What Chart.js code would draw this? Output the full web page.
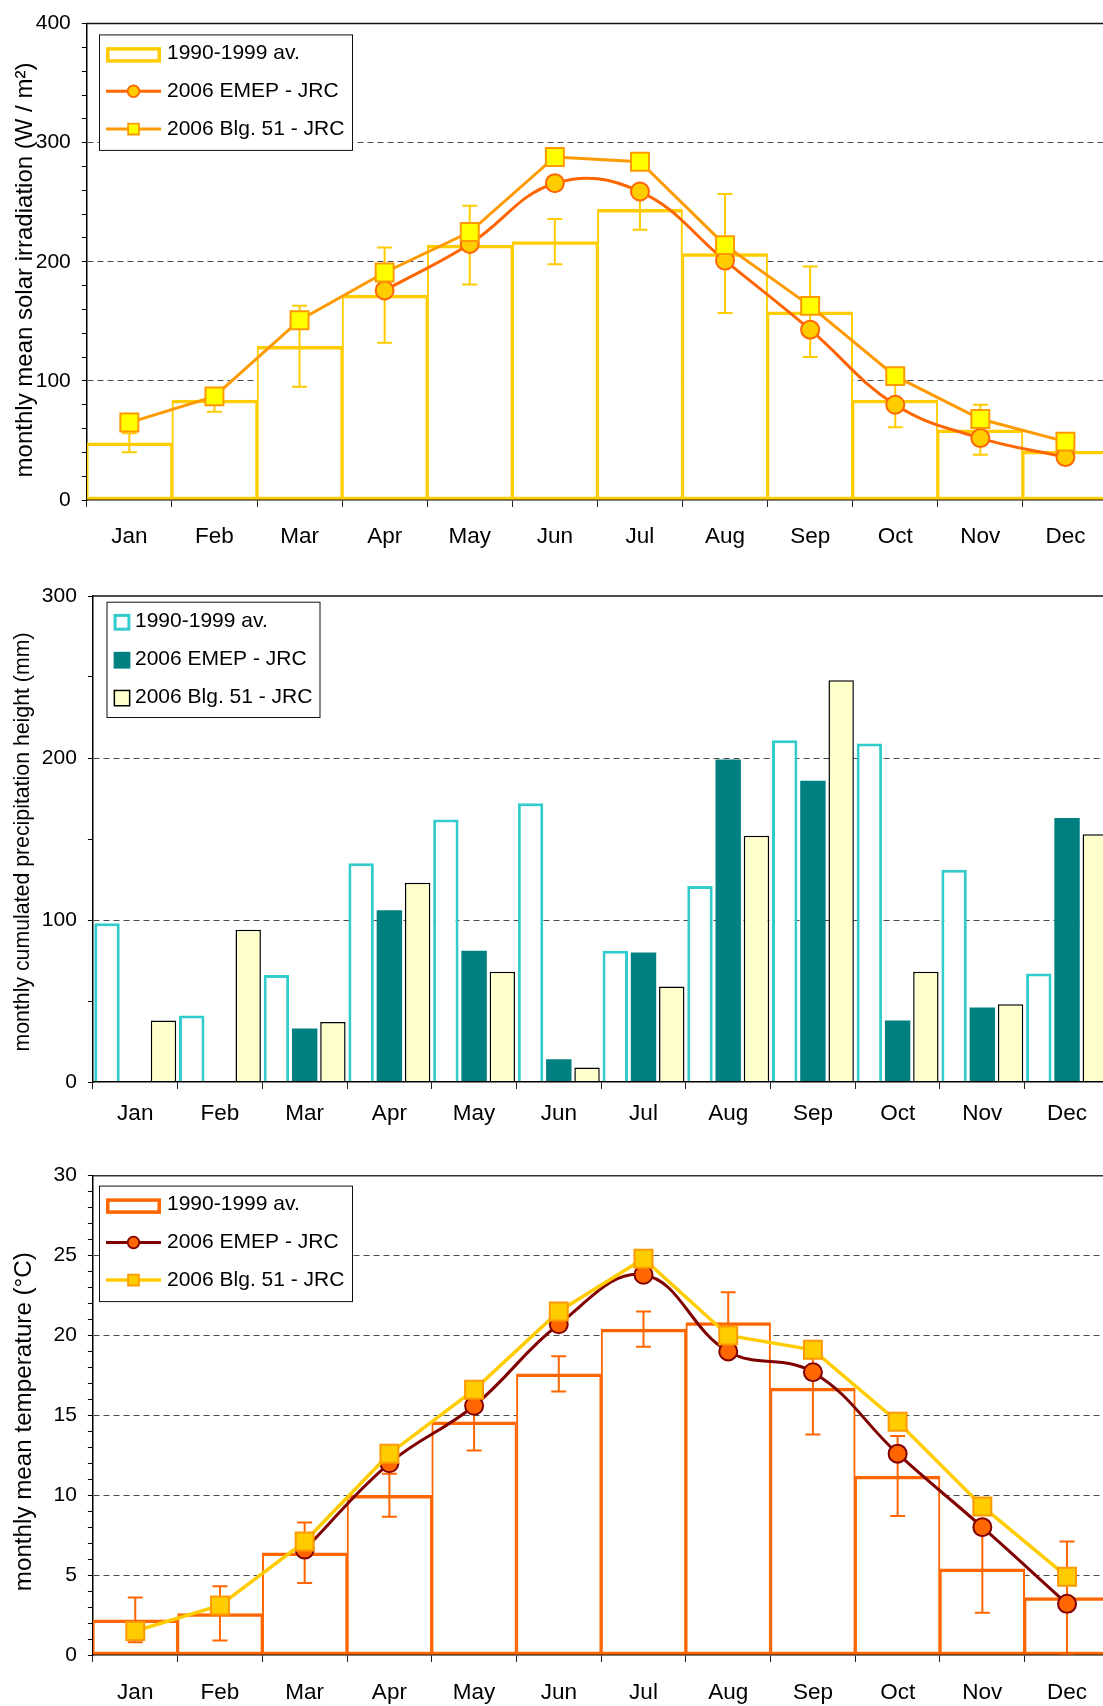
<!DOCTYPE html>
<html>
<head>
<meta charset="utf-8">
<title>Monthly climate: 2006 vs 1990-1999</title>
<script src="https://cdn.jsdelivr.net/npm/chart.js@4.4.1/dist/chart.umd.min.js"></script>
<style>
  html, body { margin: 0; padding: 0; background: #fff; }
  body { width: 1103px; height: 1706px; overflow: hidden; position: relative; }
  canvas { position: absolute; left: 0; }
  #solar  { top: 0; }
  #precip { top: 560px; }
  #temp   { top: 1140px; }
</style>
</head>
<body>
<canvas id="solar" width="1112" height="560"></canvas>
<canvas id="precip" width="1112" height="580"></canvas>
<canvas id="temp" width="1112" height="566"></canvas>
<script>
const months = ['Jan', 'Feb', 'Mar', 'Apr', 'May', 'Jun', 'Jul', 'Aug', 'Sep', 'Oct', 'Nov', 'Dec'];
const seriesNames = ['1990-1999 av.', '2006 EMEP - JRC', '2006 Blg. 51 - JRC'];

// Monthly mean solar irradiation (W / m²)
const solarAvg   = [48, 84, 129, 172, 214, 217, 244, 207, 158, 84, 59, 41];
const solarAvgSd = [8, 10, 34, 40, 33, 19, 17, 50, 38, 23, 21, 5];
const solarEmep  = [null, null, null, 176, 215, 266, 259, 201, 143, 80, 52, 36];
const solarBlg51 = [65, 87, 151, 191, 225, 288, 284, 214, 163, 104, 68, 49];

// Monthly cumulated precipitation height (mm)
const precipAvg   = [98, 41, 66, 135, 162, 172, 81, 121, 211, 209, 131, 67];
const precipEmep  = [null, null, 33, 106, 81, 14, 80, 199, 186, 38, 46, 163];
const precipBlg51 = [38, 94, 37, 123, 68, 9, 59, 152, 248, 68, 48, 153];

// Monthly mean temperature (°C)
const tempAvg   = [2.2, 2.6, 6.4, 10.0, 14.6, 17.6, 20.4, 20.8, 16.7, 11.2, 5.4, 3.6];
const tempAvgSd = [1.4, 1.7, 1.9, 1.35, 1.8, 1.1, 1.1, 1.9, 2.9, 2.5, 2.75, 3.5];
const tempEmep  = [null, null, 6.6, 12.0, 15.6, 20.7, 23.8, 19.0, 17.7, 12.6, 8.0, 3.2];
const tempBlg51 = [1.5, 3.1, 7.1, 12.6, 16.6, 21.5, 24.8, 20.0, 19.1, 14.6, 9.3, 4.9];

const FONT = '"Liberation Sans", Arial, Helvetica, sans-serif';
Chart.defaults.font.family = FONT;
Chart.defaults.color = '#000';

// Legend symbol + label rows, y-axis title, top frame line and error bars
function overlay(spec) {
  function drawMarker(ctx, style, x, y, r, fill, stroke, lw) {
    ctx.beginPath();
    if (style === 'circle') ctx.arc(x, y, r, 0, Math.PI * 2);
    else ctx.rect(x - r, y - r, 2 * r, 2 * r);
    ctx.fillStyle = fill;
    ctx.fill();
    ctx.lineWidth = lw;
    ctx.strokeStyle = stroke;
    ctx.stroke();
  }
  function drawLegend(chart) {
    const L = spec.legend;
    const ctx = chart.ctx;
    ctx.save();
    ctx.fillStyle = '#fff';
    ctx.fillRect(L.x, L.y, L.w, L.h);
    ctx.strokeStyle = '#111';
    ctx.lineWidth = 1;
    ctx.strokeRect(L.x + 0.5, L.y + 0.5, L.w, L.h);
    chart.data.datasets.forEach((ds, i) => {
      const cy = L.rows[i];
      const kind = L.kinds[i];
      if (kind === 'frame') {
        const lw = 3.5, h = L.frameH, yc = cy + 1.5;
        ctx.lineWidth = lw;
        ctx.strokeStyle = ds.borderColor;
        ctx.strokeRect(L.symX0 + lw / 2, yc - h / 2 + lw / 2, L.symX1 - L.symX0 - lw, h - lw);
      } else if (kind === 'line') {
        ctx.lineWidth = ds.borderWidth;
        ctx.strokeStyle = ds.borderColor;
        ctx.beginPath();
        ctx.moveTo(L.symX0, cy);
        ctx.lineTo(L.symX1, cy);
        ctx.stroke();
        const r = ds.pointStyle === 'circle' ? L.circleR : L.rectR;
        drawMarker(ctx, ds.pointStyle, (L.symX0 + L.symX1) / 2, cy, r,
          ds.pointBackgroundColor, ds.pointBorderColor, 1.8);
      } else if (kind === 'swatch') {
        const s = L.swatch, bw = ds.borderWidth || 0, yc = cy + 1;
        ctx.fillStyle = ds.backgroundColor;
        ctx.fillRect(L.swatchX, yc - s / 2, s, s);
        if (bw > 0) {
          ctx.lineWidth = bw;
          ctx.strokeStyle = ds.borderColor;
          ctx.strokeRect(L.swatchX + bw / 2, yc - s / 2 + bw / 2, s - bw, s - bw);
        }
      }
      ctx.fillStyle = '#000';
      ctx.font = L.font;
      ctx.textAlign = 'left';
      ctx.textBaseline = 'middle';
      ctx.fillText(ds.label, L.textX, cy);
    });
    ctx.restore();
  }
  return {
    id: 'overlay',
    afterDatasetDraw(chart, args) {
      const ds = chart.data.datasets[args.index];
      const eb = ds.errorBars;
      if (!eb) return;
      const xs = chart.scales.x, ys = chart.scales.y, ctx = chart.ctx;
      ctx.save();
      ctx.strokeStyle = eb.color;
      ctx.lineWidth = eb.width;
      eb.values.forEach((e, i) => {
        const v = ds.data[i];
        if (v == null || e == null) return;
        const px = xs.getPixelForValue(i);
        const top = ys.getPixelForValue(v + e);
        const bot = ys.getPixelForValue(v - e);
        const h = eb.cap / 2;
        ctx.beginPath();
        ctx.moveTo(px, top); ctx.lineTo(px, bot);
        ctx.moveTo(px - h, top); ctx.lineTo(px + h, top);
        ctx.moveTo(px - h, bot); ctx.lineTo(px + h, bot);
        ctx.stroke();
      });
      ctx.restore();
    },
    afterDraw(chart) {
      const ctx = chart.ctx, a = chart.chartArea;
      ctx.save();
      ctx.strokeStyle = spec.frameColor;
      ctx.lineWidth = 1.5;
      ctx.beginPath();
      ctx.moveTo(a.left, a.top);
      ctx.lineTo(a.right + 10, a.top);
      ctx.stroke();
      ctx.translate(spec.title.x, spec.title.y);
      ctx.rotate(-Math.PI / 2);
      ctx.font = spec.title.font;
      ctx.fillStyle = '#000';
      ctx.textAlign = 'center';
      ctx.textBaseline = 'middle';
      ctx.fillText(spec.title.text, 0, 0);
      ctx.restore();
      drawLegend(chart);
    }
  };
}

function axisOptions(o) {
  return {
    responsive: false,
    animation: false,
    devicePixelRatio: 1,
    events: [],
    layout: { autoPadding: false, padding: { top: o.padTop, right: o.padRight, left: 0, bottom: 0 } },
    plugins: { legend: { display: false }, tooltip: { enabled: false }, title: { display: false } },
    scales: {
      x: {
        type: 'category',
        offset: true,
        grid: { offset: true, drawOnChartArea: false, drawTicks: true, tickLength: 7, tickColor: '#222', tickWidth: 1 },
        border: { display: true, color: '#000', width: 1.5, z: o.axisOnTop ? 1 : 0 },
        ticks: { color: '#000', font: { family: FONT, size: 22.5 }, padding: o.xPad, maxRotation: 0, autoSkip: false },
        afterFit: s => { s.height = o.xHeight; s.paddingLeft = 0; s.paddingRight = 0; }
      },
      y: {
        min: 0,
        max: o.max,
        grid: {
          color: c => (c.tick && c.tick.value % o.major === 0 && c.tick.value > 0 && c.tick.value < o.max) ? '#4a4a4a' : 'rgba(0,0,0,0)',
          lineWidth: 1,
          drawTicks: true,
          tickLength: 5,
          tickColor: '#000',
          tickWidth: 1
        },
        border: { display: true, color: '#000', width: 1.5, dash: [6, 4] },
        ticks: {
          stepSize: o.minor,
          autoSkip: false,
          maxTicksLimit: 100,
          color: '#000',
          font: { family: FONT, size: 21 },
          padding: 11,
          callback: v => (v % o.major === 0 ? String(v) : '')
        },
        afterFit: s => { s.width = o.yWidth; }
      }
    }
  };
}

const lineLegend = (rows) => ({
  x: 99, y: rows[0] - 19, w: 253, h: 115.5, rows: rows,
  kinds: ['frame', 'line', 'line'],
  symX0: 106, symX1: 161, frameH: 15.5, textX: 167,
  circleR: 5.8, rectR: 5.4, font: '21px ' + FONT
});

// Step outline for the 1990-1999 averages: shared edges add up between neighbours
const stepBorder = { top: 3.5, bottom: 3, left: 2, right: 2 };

// Solar irradiation
new Chart(document.getElementById('solar'), {
  type: 'bar',
  data: {
    labels: months,
    datasets: [
      {
        label: seriesNames[0], data: solarAvg, order: 3,
        backgroundColor: '#FFFFFF', borderColor: '#FFCC00',
        borderWidth: stepBorder, borderSkipped: false,
        barPercentage: 1, categoryPercentage: 1,
        errorBars: { values: solarAvgSd, color: '#FFCC00', width: 2, cap: 15 }
      },
      {
        type: 'line', label: seriesNames[1], data: solarEmep, order: 2,
        borderColor: '#FF6600', borderWidth: 3, tension: 0.4, fill: false,
        pointStyle: 'circle', pointRadius: 9, pointBackgroundColor: '#FFCC00',
        pointBorderColor: '#FF6600', pointBorderWidth: 2
      },
      {
        type: 'line', label: seriesNames[2], data: solarBlg51, order: 1,
        borderColor: '#FF9900', borderWidth: 3, tension: 0, fill: false,
        pointStyle: 'rect', pointRadius: 12.7, pointBackgroundColor: '#FFFF00',
        pointBorderColor: '#FF9900', pointBorderWidth: 2
      }
    ]
  },
  options: axisOptions({ max: 400, minor: 20, major: 100, yWidth: 86.8, padTop: 20, padRight: 4, xHeight: 60, xPad: 16.5 }),
  plugins: [overlay({
    frameColor: '#111',
    title: { text: 'monthly mean solar irradiation (W / m²)', x: 25, y: 270, font: '24px ' + FONT },
    legend: lineLegend([53.4, 91.3, 129.1])
  })]
});

// Precipitation
new Chart(document.getElementById('precip'), {
  type: 'bar',
  data: {
    labels: months,
    datasets: [
      { label: seriesNames[0], data: precipAvg, backgroundColor: '#FFFFFF', borderColor: '#33CCCC', borderWidth: 3, borderSkipped: 'start' },
      { label: seriesNames[1], data: precipEmep, backgroundColor: '#008080', borderWidth: 0 },
      { label: seriesNames[2], data: precipBlg51, backgroundColor: '#FFFFCC', borderColor: '#000000', borderWidth: 1.5, borderSkipped: 'start' }
    ]
  },
  options: (() => {
    const o = axisOptions({ max: 300, minor: 50, major: 100, yWidth: 92.9, padTop: 36, padRight: 2.6, xHeight: 58, xPad: 11, axisOnTop: true });
    o.datasets = { bar: { barPercentage: 0.9, categoryPercentage: 1 } };
    return o;
  })(),
  plugins: [overlay({
    frameColor: '#111',
    title: { text: 'monthly cumulated precipitation height (mm)', x: 23, y: 282, font: '21.3px ' + FONT },
    legend: {
      x: 106.5, y: 41.7, w: 213, h: 115.3, rows: [61.3, 99.2, 137.1],
      kinds: ['swatch', 'swatch', 'swatch'],
      swatchX: 113.6, swatch: 16.8, textX: 135, font: '21px ' + FONT
    }
  })]
});

// Temperature
new Chart(document.getElementById('temp'), {
  type: 'bar',
  data: {
    labels: months,
    datasets: [
      {
        label: seriesNames[0], data: tempAvg, order: 3,
        backgroundColor: '#FFFFFF', borderColor: '#FF6600',
        borderWidth: stepBorder, borderSkipped: false,
        barPercentage: 1, categoryPercentage: 1,
        errorBars: { values: tempAvgSd, color: '#FF6600', width: 2, cap: 15 }
      },
      {
        type: 'line', label: seriesNames[1], data: tempEmep, order: 2,
        borderColor: '#800000', borderWidth: 3, tension: 0.4, fill: false,
        pointStyle: 'circle', pointRadius: 9, pointBackgroundColor: '#FF6600',
        pointBorderColor: '#800000', pointBorderWidth: 2
      },
      {
        type: 'line', label: seriesNames[2], data: tempBlg51, order: 1,
        borderColor: '#FFCC00', borderWidth: 3.5, tension: 0, fill: false,
        pointStyle: 'rect', pointRadius: 12.7, pointBackgroundColor: '#FFCC00',
        pointBorderColor: '#FF9900', pointBorderWidth: 2
      }
    ]
  },
  options: axisOptions({ max: 30, minor: 1, major: 5, yWidth: 92.9, padTop: 35.7, padRight: 2.6, xHeight: 51, xPad: 17 }),
  plugins: [overlay({
    frameColor: '#333',
    title: { text: 'monthly mean temperature (°C)', x: 24, y: 281.7, font: '24.2px ' + FONT },
    legend: lineLegend([64.6, 102.5, 140.1])
  })]
});
</script>
</body>
</html>
